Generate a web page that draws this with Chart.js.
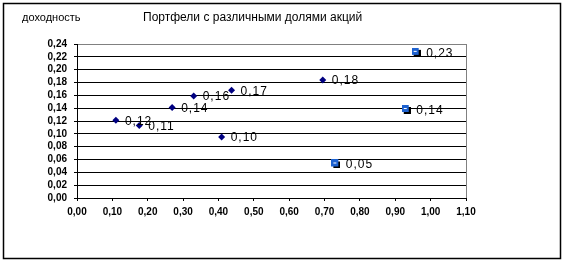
<!DOCTYPE html>
<html><head><meta charset="utf-8">
<script src="https://cdn.jsdelivr.net/npm/chart.js@4/dist/chart.umd.min.js"></script>
<style>html,body{margin:0;padding:0;background:#fff}#wrap{width:567px;height:264px;position:relative}</style>
</head><body><div id="wrap"><canvas id="c" width="567" height="264"></canvas></div>
<script>
// Data
const seriesA_x = [0.11, 0.176, 0.269, 0.33, 0.437, 0.695, 0.409];
const seriesA_y = [0.121, 0.113, 0.141, 0.159, 0.168, 0.184, 0.095];
const seriesA_labels = ["0,12", "0,11", "0,14", "0,16", "0,17", "0,18", "0,10"];
const seriesB_x = [0.959, 0.931, 0.732];
const seriesB_y = [0.227, 0.138, 0.053];
const seriesB_labels = ["0,23", "0,14", "0,05"];
const yTitle = "доходность";
const chartTitle = "Портфели с различными долями акций";

function fmt(v){ return v.toFixed(2).replace('.', ','); }

// square marker with shadow
const sq = document.createElement('canvas');
sq.width = 9; sq.height = 9;
(function(){
  const g = sq.getContext('2d');
  g.fillStyle = '#000'; g.fillRect(2,2,7,7);
  g.fillStyle = '#1E62D0'; g.fillRect(0,0,7,7);
  g.fillStyle = '#fff'; g.fillRect(2,3,3,1);
})();

const ptsA = seriesA_x.map((x,i)=>({x, y: seriesA_y[i]}));
const ptsB = seriesB_x.map((x,i)=>({x, y: seriesB_y[i]}));

const decor = {
  id: 'decor',
  beforeDraw(chart){
    const c = chart.ctx;
    c.save();
    c.fillStyle = '#fff'; c.fillRect(0,0,chart.width,chart.height);
    c.restore();
  },
  afterDraw(chart){
    const c = chart.ctx;
    c.save();
    c.strokeStyle = '#000'; c.lineWidth = 1.5;
    c.strokeRect(3.5, 3.5, 557, 255);
    c.fillStyle = '#000';
    c.font = '11px "Liberation Sans", Arial, sans-serif';
    c.textBaseline = 'middle';
    c.fillText(yTitle, 22, 18);
    c.font = '12px "Liberation Sans", Arial, sans-serif';
    c.fillText(chartTitle, 143, 18);
    // data labels
    c.font = '12px "Liberation Sans", Arial, sans-serif';
    try { c.letterSpacing = '1px'; } catch(e){}
    const lbls = [seriesA_labels, seriesB_labels];
    chart.data.datasets.forEach((ds, di) => {
      const meta = chart.getDatasetMeta(di);
      meta.data.forEach((el, i) => {
        c.fillText(lbls[di][i], el.x + (di===1 ? 10 : 9), el.y + 1);
      });
    });
    c.restore();
  }
};

new Chart(document.getElementById('c'), {
  type: 'scatter',
  data: { datasets: [
    { data: ptsA, pointStyle: 'rectRot', pointRadius: 3.5, pointHoverRadius: 3.5,
      backgroundColor: '#000080', borderColor: '#000080', borderWidth: 0 },
    { data: ptsB, pointStyle: sq, pointRadius: 4.5 }
  ]},
  options: {
    responsive: false, animation: false, devicePixelRatio: 1,
    events: [],
    layout: { padding: { top: 44, right: 101, bottom: 46, left: 0 } },
    plugins: { legend: { display: false }, tooltip: { enabled: false }, title: { display: false } },
    scales: {
      x: {
        type: 'linear', min: 0, max: 1.1,
        afterFit(s){ s.height = 20; },
        ticks: { stepSize: 0.1, autoSkip: false, callback: v => fmt(v), color: '#000', padding: 5,
                 font: { family: '"Liberation Sans", Arial, sans-serif', size: 10, weight: 'bold' }, maxRotation: 0 },
        grid: { drawOnChartArea: true, tickLength: 3, tickColor: '#000',
                color: ctx => (ctx.tick && Math.abs(ctx.tick.value - 1.1) < 1e-6) ? '#808080' : 'rgba(0,0,0,0)' },
        border: { color: '#000', width: 1 }
      },
      y: {
        type: 'linear', min: 0, max: 0.24,
        afterFit(s){ s.width = 77; },
        ticks: { stepSize: 0.02, autoSkip: false, callback: v => fmt(v), color: '#000', padding: 7,
                 font: { family: '"Liberation Sans", Arial, sans-serif', size: 10, weight: 'bold' } },
        grid: { tickLength: 3, tickColor: '#000',
                color: ctx => (ctx.tick && Math.abs(ctx.tick.value - 0.24) < 1e-6) ? '#808080' : '#000' },
        border: { color: '#000', width: 1 }
      }
    }
  },
  plugins: [decor]
});
</script></body></html>
